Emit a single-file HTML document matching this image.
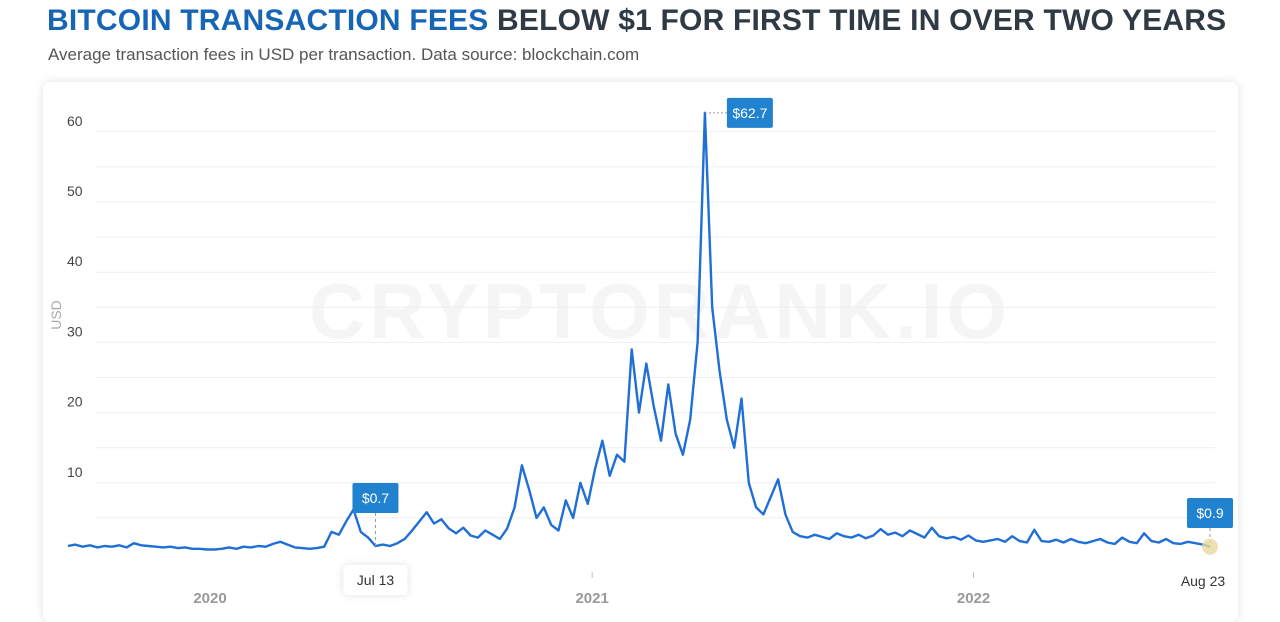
<!DOCTYPE html>
<html><head><meta charset="utf-8"><style>
body{margin:0;width:1280px;height:611px;background:#fff;font-family:"Liberation Sans",sans-serif;overflow:hidden;position:relative}
h1{position:absolute;left:47px;top:4px;margin:0;font-size:30px;font-weight:bold;color:#2f3a45;letter-spacing:0.2px;white-space:nowrap}
h1 span{color:#1766b5}
.sub{position:absolute;left:48px;top:45px;font-size:17px;color:#555}
.card{position:absolute;left:43px;top:82px;width:1195px;height:540px;border-radius:8px;box-shadow:0 0 10px rgba(0,0,0,0.12);background:#fff}
svg{position:absolute;left:0;top:0}
</style></head><body>
<h1><span>BITCOIN TRANSACTION FEES</span> BELOW $1 FOR FIRST TIME IN OVER TWO YEARS</h1>
<div class="sub">Average transaction fees in USD per transaction. Data source: blockchain.com</div>
<div class="card"></div>
<svg id="chart" width="1280" height="611"></svg>
<script>
const yTicks=[10,20,30,40,50,60];
const gridVals=[5,10,15,20,25,30,35,40,45,50,55,60];
const yearLabels=["2020","2021","2022"];
const yearIdx=[19.4,71.6,123.7];
const values=[1.0,1.2,0.9,1.1,0.8,1.0,0.9,1.1,0.8,1.4,1.1,1.0,0.9,0.8,0.9,0.7,0.8,0.6,0.6,0.5,
0.5,0.6,0.8,0.6,0.9,0.8,1.0,0.9,1.3,1.6,1.2,0.8,0.7,0.6,0.7,0.9,3.0,2.6,4.5,6.2,
3.0,2.2,1.0,1.2,1.0,1.4,2.0,3.2,4.5,5.8,4.2,4.8,3.5,2.8,3.6,2.5,2.2,3.2,2.6,2.0,
3.5,6.5,12.5,9.0,5.0,6.5,4.0,3.2,7.5,5.0,10.0,7.0,12.0,16.0,11.0,14.0,13.0,29.0,20.0,27.0,
21.0,16.0,24.0,17.0,14.0,19.0,30.0,62.7,35.0,26.0,19.0,15.0,22.0,10.0,6.5,5.5,8.0,10.5,5.5,3.0,
2.4,2.2,2.6,2.3,2.0,2.8,2.4,2.2,2.6,2.1,2.5,3.4,2.6,2.9,2.4,3.2,2.7,2.2,3.6,2.4,
2.1,2.3,1.9,2.5,1.8,1.6,1.8,2.0,1.6,2.4,1.7,1.5,3.3,1.7,1.6,1.9,1.5,2.0,1.6,1.4,
1.7,2.0,1.5,1.3,2.2,1.6,1.4,2.8,1.7,1.5,2.0,1.4,1.3,1.6,1.4,1.2,0.9];
const annotations=[{i:42,label:"$0.7",date:"Jul 13"},{i:87,label:"$62.7"},{i:156,label:"$0.9",date:"Aug 23"}];
const svg=document.getElementById('chart');const NS="http://www.w3.org/2000/svg";
const x0=68,x1=1210,yBase=553,pxPerUnit=7.02;
const X=i=>x0+(x1-x0)*i/(values.length-1);
const Y=v=>yBase-v*pxPerUnit;
function mk(t,a,p){const e=document.createElementNS(NS,t);for(const k in a)e.setAttribute(k,a[k]);(p||svg).appendChild(e);return e;}
let wm=mk('text',{x:660,y:338,'text-anchor':'middle','font-size':78,'font-weight':'bold',fill:'#f5f5f5','letter-spacing':4});wm.textContent="CRYPTORANK.IO";


gridVals.forEach(v=>{const l=mk('line',{x1:95,x2:1215,y1:Y(v),y2:Y(v),stroke:'#efefef','stroke-width':1});

});
yTicks.forEach(v=>{const t=mk('text',{x:67,y:Y(v)-6,'font-size':14,fill:'#444'});t.textContent=v;

});
let ut=mk('text',{x:61,y:315,'font-size':14,fill:'#aaa','text-anchor':'middle',transform:'rotate(-90 61 315)'});ut.textContent="USD";


yearLabels.forEach((s,k)=>{const x=X(yearIdx[k]);const t=mk('text',{x:x,y:603,'font-size':15,'font-weight':'bold',fill:'#999','text-anchor':'middle'});t.textContent=s;


if(k>0){const tk=mk('line',{x1:x,x2:x,y1:572,y2:578,stroke:'#bbb'});

}});
const p=mk('path',{d:values.map((v,i)=>(i?'L':'M')+X(i).toFixed(1)+','+Y(v).toFixed(1)).join(''),fill:'none',stroke:'#1f6fd6','stroke-width':2.4,'stroke-linejoin':'round'});


annotations.forEach((a,k)=>{const x=X(a.i),y=Y(values[a.i]);let bx,by;
if(k===1){bx=x+22;by=y-15;mk('line',{x1:x,x2:bx,y1:y,y2:y,stroke:'#999','stroke-dasharray':'2,2'});}
else{bx=x-23;by=k===0?483:498;mk('line',{x1:x,x2:x,y1:by+30,y2:y,stroke:'#999','stroke-dasharray':'3,3'});}
if(k===2){const c=mk('circle',{cx:x,cy:y,r:8,fill:'#e8d9a0',opacity:0.8});

}
const r=mk('rect',{x:bx,y:by,width:46,height:30,rx:2,fill:'#2182cf'});


const t=mk('text',{x:bx+23,y:by+20,'font-size':14,fill:'#fff','text-anchor':'middle'});t.textContent=a.label;
if(a.date){const w=k===0?64:54;const dy=k===0?565:566;
if(k===0){mk('rect',{x:x-32,y:dy,width:w,height:30,rx:4,fill:'#fff',style:'filter:drop-shadow(0 0 4px rgba(0,0,0,0.12))'});}
const dt=mk('text',{x:x+(k===2?-7:0),y:dy+20,'font-size':14,fill:'#333','text-anchor':'middle'});dt.textContent=a.date;

}
});
</script>
</body></html>
